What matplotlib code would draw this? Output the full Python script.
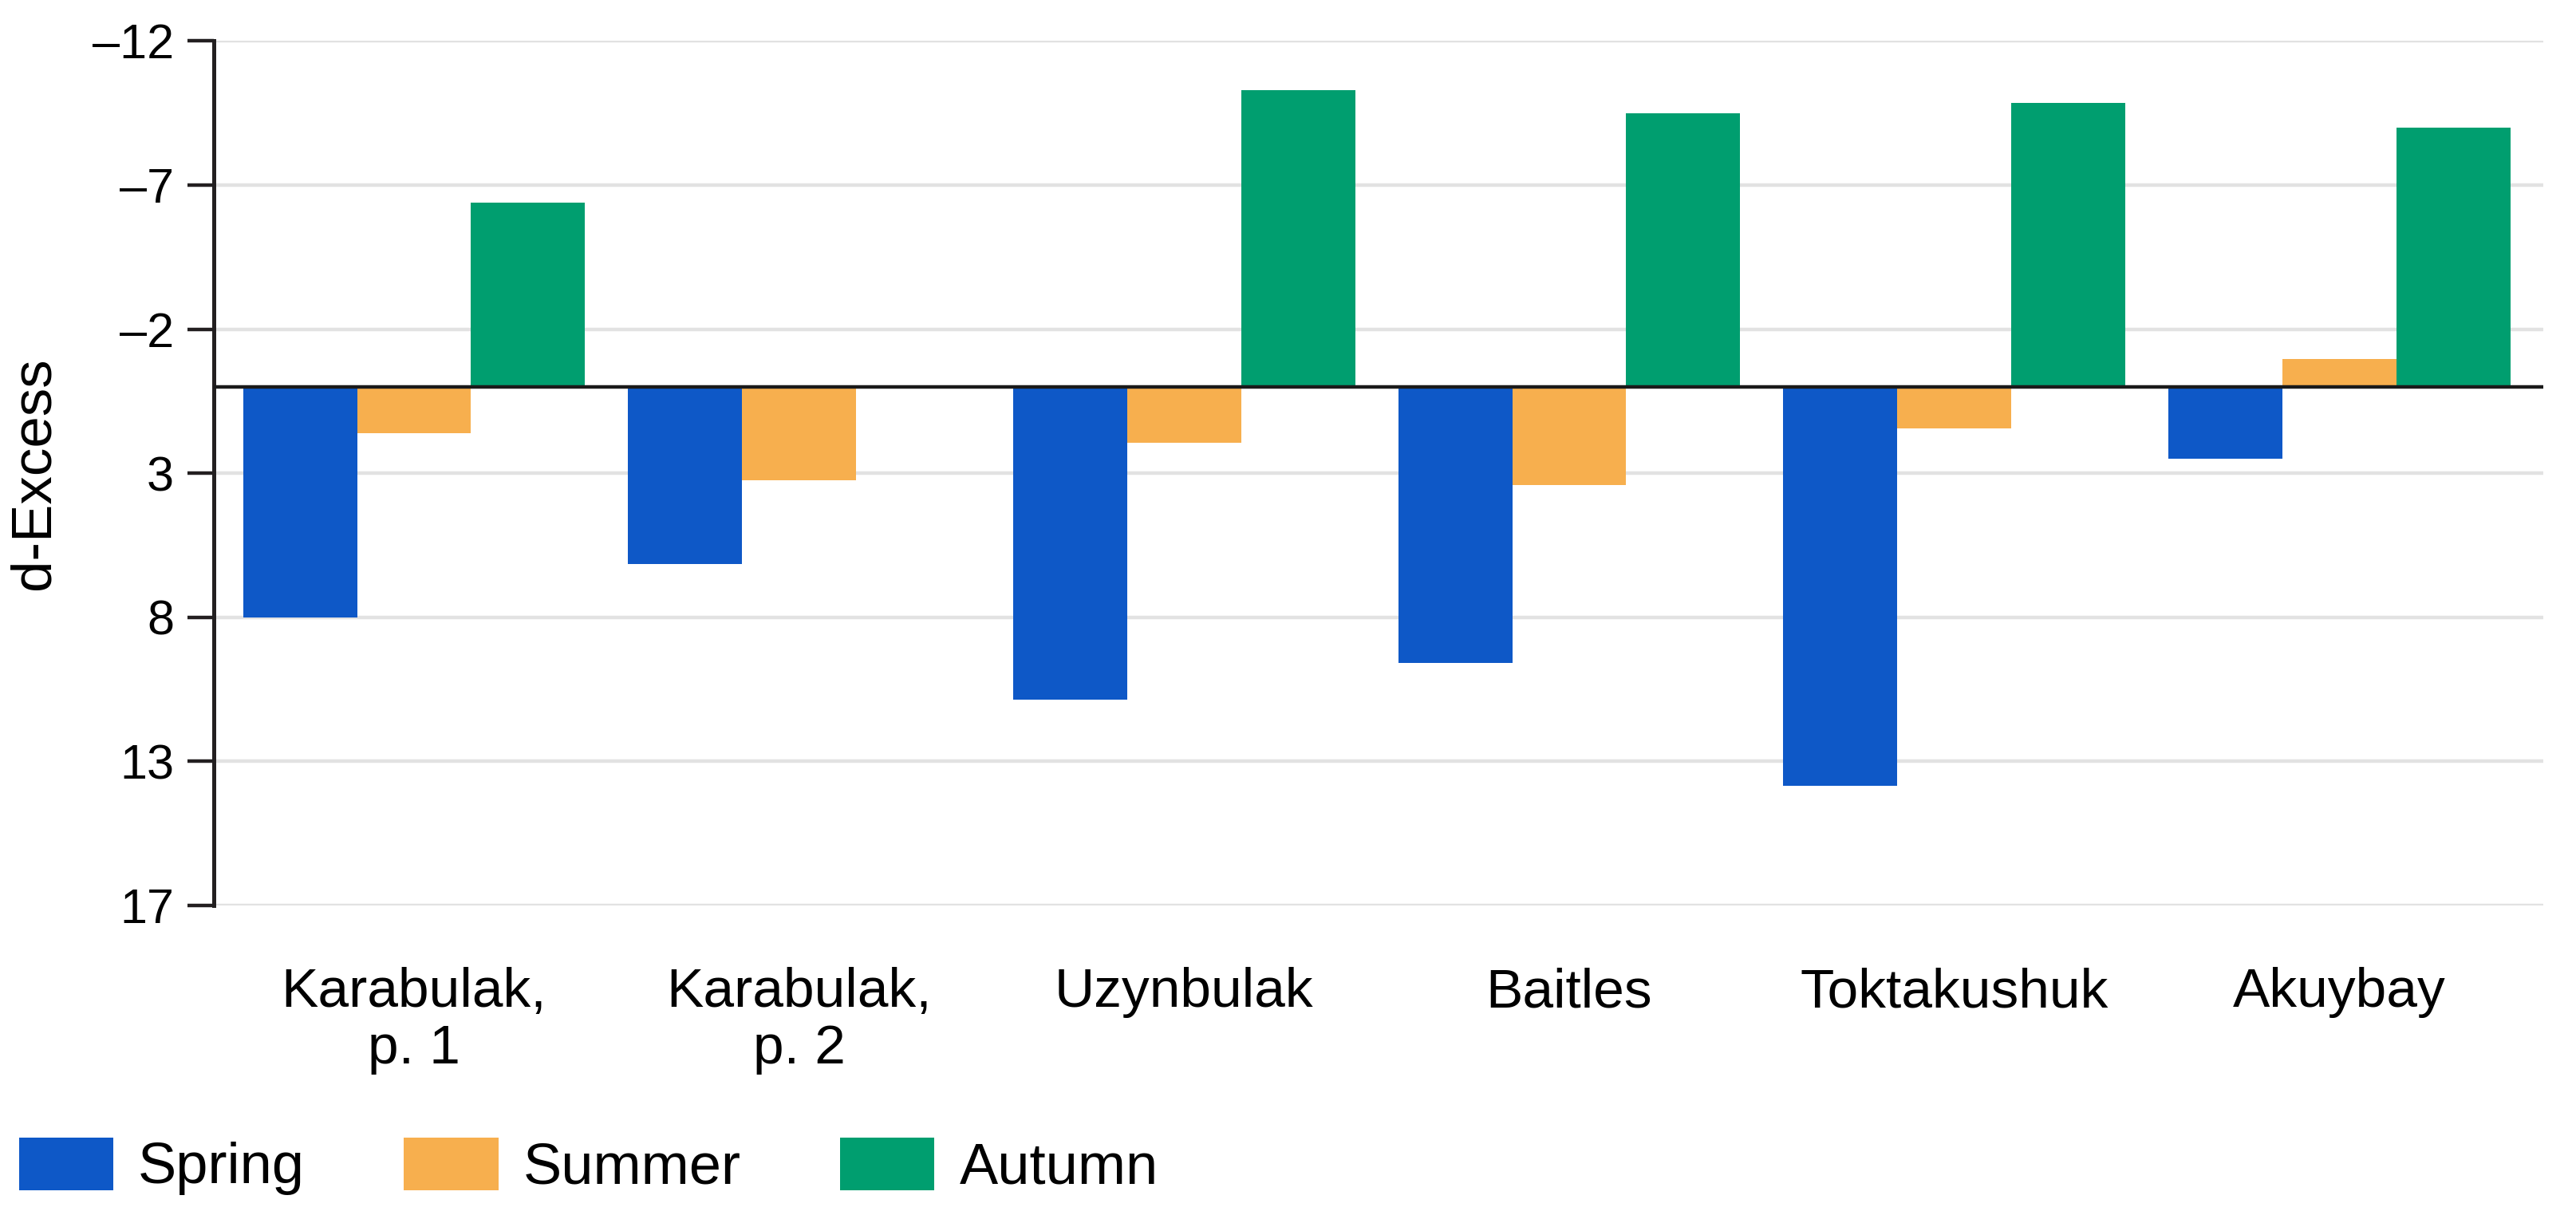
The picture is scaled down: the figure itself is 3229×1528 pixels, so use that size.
import matplotlib
matplotlib.use("Agg")
import matplotlib.pyplot as plt
import numpy as np
from matplotlib.patches import Patch

categories = ["Karabulak,\np. 1", "Karabulak,\np. 2", "Uzynbulak", "Baitles", "Toktakushuk", "Akuybay"]
spring = [8.0, 6.15, 10.85, 9.6, 13.85, 2.5]
summer = [1.6, 3.25, 1.95, 3.4, 1.45, -0.95]
autumn = [-6.4, 0.0, -10.3, -9.5, -9.85, -9.0]
series_names = ["Spring", "Summer", "Autumn"]
colors = ["#0E58C7", "#F7AF4E", "#009E6F"]
ytick_vals = [-12, -7, -2, 3, 8, 13, 18]
ytick_labels = ["\u201312", "\u20137", "\u20132", "3", "8", "13", "17"]

plt.rcParams['font.family'] = ['Liberation Sans', 'DejaVu Sans']

fig = plt.figure(figsize=(16.15, 7.64), dpi=200)
ax = fig.add_axes([0.083, 0.2574, 0.904, 0.7089])

x = np.arange(len(categories))
w = 0.296
for i, (vals, c) in enumerate(zip([spring, summer, autumn], colors)):
    ax.bar(x + (i - 1) * w, vals, width=w, color=c, zorder=3, linewidth=0)

ax.set_ylim(18, -12)
ax.set_xlim(-0.52, 5.53)
ax.set_yticks(ytick_vals)
ax.set_yticklabels(ytick_labels, fontsize=22)
ax.set_xticks(x)
ax.set_xticklabels(categories, fontsize=25, linespacing=1.14)
ax.tick_params(axis='x', length=0, pad=28)
ax.tick_params(axis='y', length=12, width=1.6, color="#231f20", pad=6)
ax.grid(axis='y', color="#e2e2e2", linewidth=1.6, zorder=0)
ax.axhline(0, color="#1a1a1a", linewidth=1.6, zorder=4)
for s in ["top", "right", "bottom"]:
    ax.spines[s].set_visible(False)
ax.spines["left"].set_color("#231f20")
ax.spines["left"].set_linewidth(1.8)
ax.set_ylabel("d-Excess", fontsize=25.5)
ax.yaxis.set_label_coords(-0.0656, 0.5)

handles = [Patch(facecolor=c, label=n) for n, c in zip(series_names, colors)]
fig.legend(handles=handles, loc="center left", bbox_to_anchor=(0.0073, 0.0431), ncol=3,
           frameon=False, fontsize=26, handlelength=1.64, handleheight=1.03,
           handletextpad=0.43, columnspacing=1.72, borderpad=0, borderaxespad=0)

fig.savefig("out.png", dpi=200)
